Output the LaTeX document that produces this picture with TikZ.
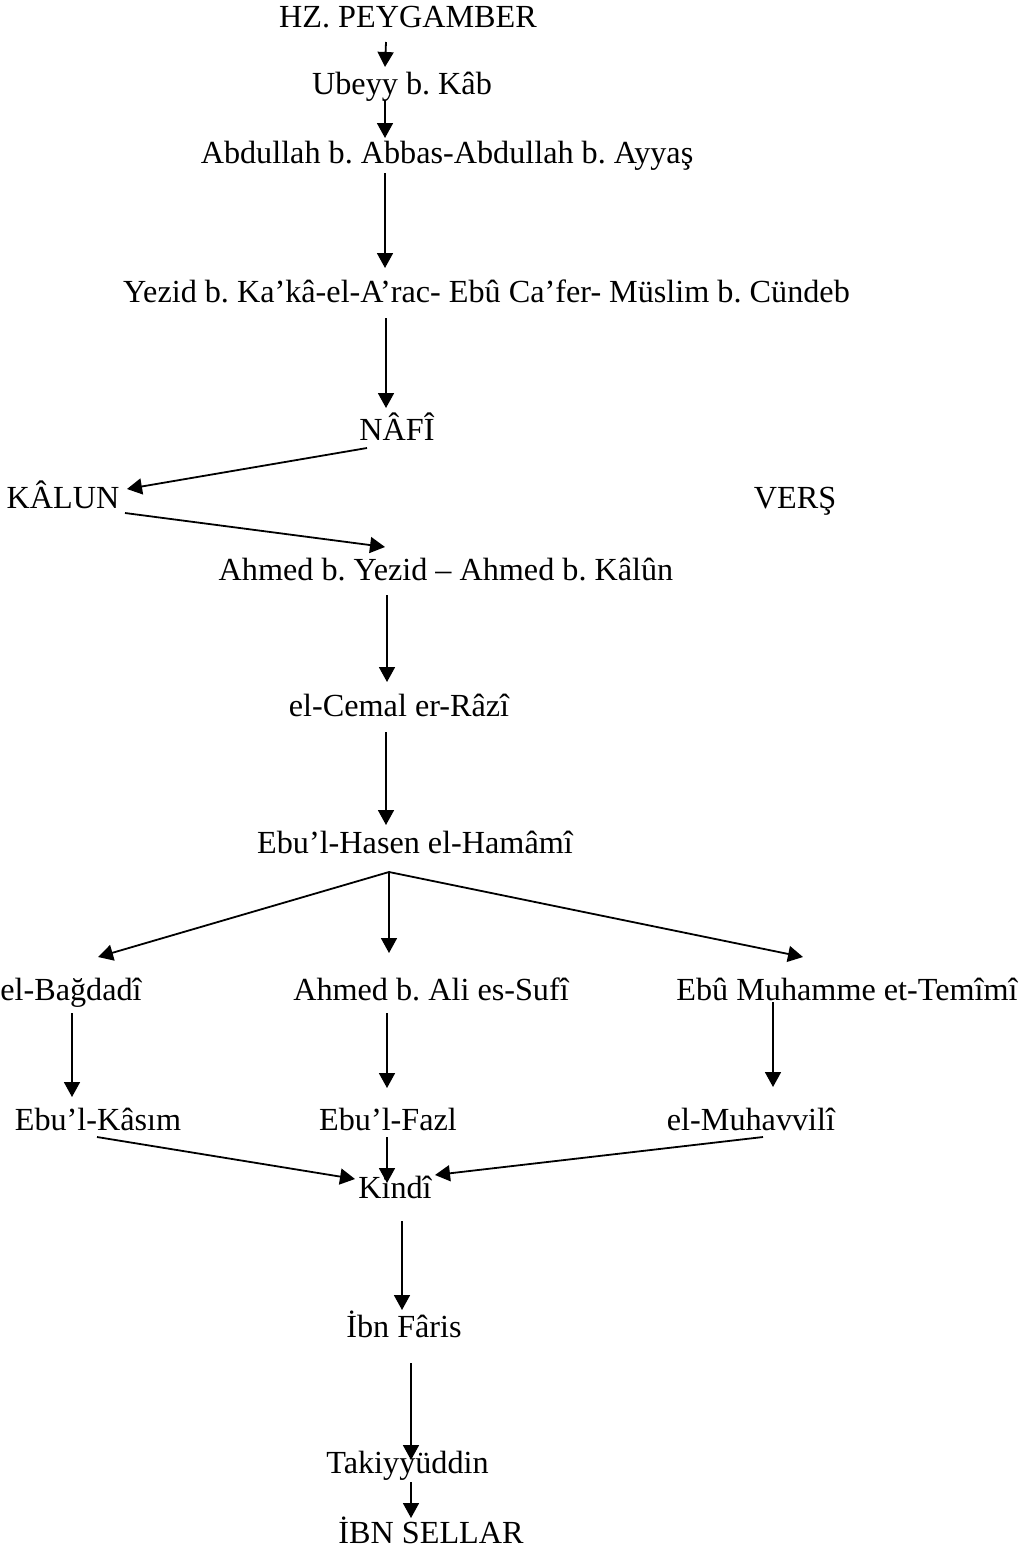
\documentclass[tikz,border=0pt]{standalone}
\usepackage{fontspec}
\setmainfont{Liberation Serif}
\usetikzlibrary{arrows.meta}
\tikzset{
  lbl/.style={anchor=base, inner sep=0pt, font=\fontsize{32.2}{36}\selectfont\frenchspacing},
  arr/.style={line width=1.8pt, -{Triangle[length=15pt,width=16pt]}}
}
\begin{document}
\begin{tikzpicture}[x=1pt,y=-1pt]
\useasboundingbox (0,0) rectangle (1023,1550);
\node[lbl] (hz) at (408,27) {HZ. PEYGAMBER};
\node[lbl] (ub) at (402,94) {Ubeyy b. Kâb};
\node[lbl] (ab) at (447,163) {Abdullah b. Abbas-Abdullah b. Ayyaş};
\node[lbl] (yz) at (486.5,302) {Yezid b. Ka’kâ-el-A’rac- Ebû Ca’fer- Müslim b. Cündeb};
\node[lbl] (nf) at (397,440) {NÂFÎ};
\node[lbl] (kl) at (63,508) {KÂLUN};
\node[lbl] (vr) at (795,508) {VERŞ};
\node[lbl] (ay) at (446,580) {Ahmed b. Yezid – Ahmed b. Kâlûn};
\node[lbl] (cr) at (399,716) {el-Cemal er-Râzî};
\node[lbl] (eh) at (415,853) {Ebu’l-Hasen el-Hamâmî};
\node[lbl] (bg) at (71,1000) {el-Bağdadî};
\node[lbl] (as) at (431,1000) {Ahmed b. Ali es-Sufî};
\node[lbl] (em) at (847,1000) {Ebû Muhamme et-Temîmî};
\node[lbl] (ek) at (98,1130) {Ebu’l-Kâsım};
\node[lbl] (ef) at (388,1130) {Ebu’l-Fazl};
\node[lbl] (mh) at (751,1130) {el-Muhavvilî};
\node[lbl] (kd) at (395,1198) {Kindî};
\node[lbl] (ib) at (404,1337) {İbn Fâris};
\node[lbl] (tk) at (407.5,1473) {Takiyyüddin};
\node[lbl] (is) at (431,1543) {İBN SELLAR};

\draw[arr] ([shift={(-22,15)}]hz.base) -- ([shift={(-17,-27)}]ub.base);
\draw[arr] ([shift={(-17,6)}]ub.base) -- ([shift={(-62,-25)}]ab.base);
\draw[arr] ([shift={(-62,10)}]ab.base) -- ([shift={(-101.5,-34)}]yz.base);
\draw[arr] ([shift={(-100.5,16)}]yz.base) -- ([shift={(-11,-32)}]nf.base);
\draw[arr] ([shift={(-30,8)}]nf.base) -- ([shift={(64,-19)}]kl.base);
\draw[arr] ([shift={(62,5)}]kl.base) -- ([shift={(-61,-33)}]ay.base);
\draw[arr] ([shift={(-59,15)}]ay.base) -- ([shift={(-12,-34)}]cr.base);
\draw[arr] ([shift={(-13,16)}]cr.base) -- ([shift={(-29,-28)}]eh.base);
\draw[arr] ([shift={(-26,19)}]eh.base) -- ([shift={(27,-43)}]bg.base);
\draw[arr] ([shift={(-26,19)}]eh.base) -- ([shift={(-42,-47)}]as.base);
\draw[arr] ([shift={(-26,19)}]eh.base) -- ([shift={(-44,-43)}]em.base);
\draw[arr] ([shift={(1,13)}]bg.base) -- ([shift={(-26,-33)}]ek.base);
\draw[arr] ([shift={(-44,13)}]as.base) -- ([shift={(-1,-42)}]ef.base);
\draw[arr] ([shift={(-74,2)}]em.base) -- ([shift={(22,-43)}]mh.base);
\draw[arr] ([shift={(-1,7)}]ek.base) -- ([shift={(-40,-19)}]kd.base);
\draw[arr] ([shift={(-1,7)}]ef.base) -- ([shift={(-8,-15)}]kd.base);
\draw[arr] ([shift={(12,7)}]mh.base) -- ([shift={(40,-23)}]kd.base);
\draw[arr] ([shift={(7,23)}]kd.base) -- ([shift={(-2,-27)}]ib.base);
\draw[arr] ([shift={(7,26)}]ib.base) -- ([shift={(3.5,-13)}]tk.base);
\draw[arr] ([shift={(3.5,9)}]tk.base) -- ([shift={(-20,-25)}]is.base);
\end{tikzpicture}
\end{document}
